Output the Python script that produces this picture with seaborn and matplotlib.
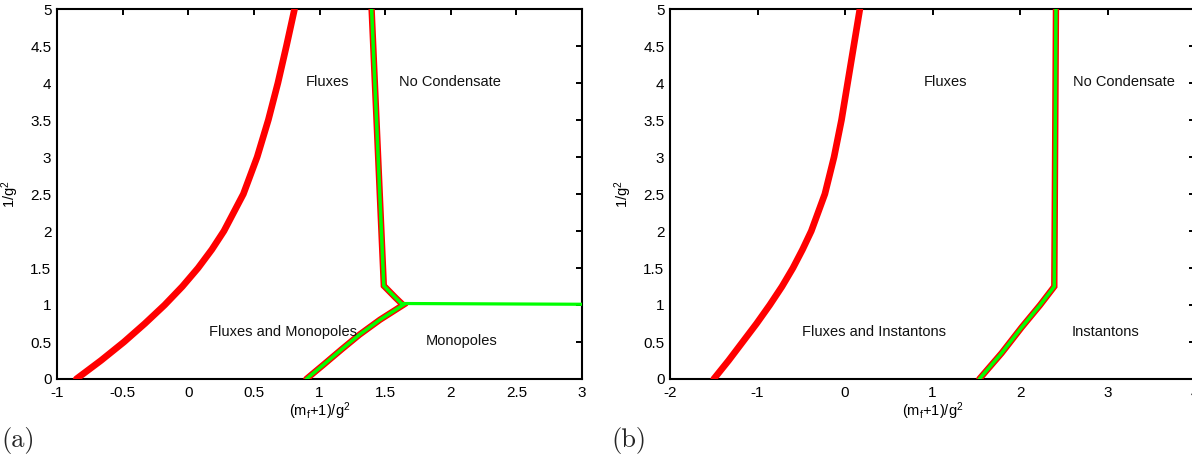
import matplotlib
matplotlib.use("Agg")
import matplotlib.pyplot as plt
import seaborn as sns
import pandas as pd

# ---------------- data ----------------
flux_y = [0, 0.25, 0.5, 0.75, 1, 1.25, 1.5, 1.75, 2, 2.5, 3, 3.5, 4, 4.5, 5]

# panel (a)
a_flux_x = [-0.853, -0.665, -0.49, -0.33, -0.18, -0.045, 0.075, 0.18, 0.272,
            0.42, 0.525, 0.61, 0.683, 0.748, 0.81]
a_flux_y = flux_y
a_bound_x = [0.90, 1.035, 1.168, 1.305, 1.46, 1.637, 1.582, 1.49, 1.397]
a_bound_y = [0.0, 0.2, 0.4, 0.6, 0.80, 1.0, 1.094, 1.26, 5.0]
a_mono_x = [1.64, 3.0]
a_mono_y = [1.02, 1.01]

# panel (b)
b_flux_x = [-1.50, -1.33, -1.17, -1.01, -0.86, -0.72, -0.595, -0.485, -0.385,
            -0.23, -0.125, -0.04, 0.03, 0.10, 0.17]
b_flux_y = flux_y
b_bound_x = [1.535, 1.79, 2.02, 2.23, 2.392, 2.411]
b_bound_y = [0.0, 0.35, 0.70, 1.0, 1.25, 5.0]

a_xticks = [-1, -0.5, 0, 0.5, 1, 1.5, 2, 2.5, 3]
a_xticklabels = ["-1", "-0.5", "0", "0.5", "1", "1.5", "2", "2.5", "3"]
b_xticks = [-2, -1, 0, 1, 2, 3, 4]
b_xticklabels = ["-2", "-1", "0", "1", "2", "3", "4"]
yticks = [0, 0.5, 1, 1.5, 2, 2.5, 3, 3.5, 4, 4.5, 5]
yticklabels = ["0", "0.5", "1", "1.5", "2", "2.5", "3", "3.5", "4", "4.5", "5"]

a_regions = ["Fluxes", "No Condensate", "Fluxes and Monopoles", "Monopoles"]
a_region_x = [1.064, 1.993, 0.72, 2.08]
a_region_y = [4.02, 4.02, 0.64, 0.52]
b_regions = ["Fluxes", "No Condensate", "Fluxes and Instantons", "Instantons"]
b_region_x = [1.143, 3.19, 0.33, 2.98]
b_region_y = [4.02, 4.02, 0.64, 0.64]

# ---------------- style ----------------
sns.set_theme(style="white")
plt.rcParams["font.family"] = ["Liberation Sans", "DejaVu Sans"]
plt.rcParams["mathtext.default"] = "regular"

W, H = 1192, 462
fig = plt.figure(figsize=(W / 100, H / 100), dpi=100)
fig.patch.set_facecolor("white")

ax_a = fig.add_axes([57 / W, (H - 379) / H, 525 / W, 370 / H])
ax_b = fig.add_axes([670 / W, (H - 379) / H, 525 / W, 370 / H])

RED = "#ff0000"
GREEN = "#00ff00"


def outlined(ax, xs, ys):
    df = pd.DataFrame({"x": xs, "y": ys})
    sns.lineplot(data=df, x="x", y="y", sort=False, estimator=None, ax=ax,
                 color=RED, linewidth=4.6, solid_joinstyle="miter", zorder=3)
    sns.lineplot(data=df, x="x", y="y", sort=False, estimator=None, ax=ax,
                 color=GREEN, linewidth=2.5, solid_joinstyle="miter", zorder=4)


def thick_red(ax, xs, ys):
    df = pd.DataFrame({"x": xs, "y": ys})
    sns.lineplot(data=df, x="x", y="y", sort=False, estimator=None, ax=ax,
                 color=RED, linewidth=4.8, solid_joinstyle="round", zorder=3)


# panel (a)
thick_red(ax_a, a_flux_x, a_flux_y)
outlined(ax_a, a_bound_x, a_bound_y)
sns.lineplot(x=a_mono_x, y=a_mono_y, sort=False, estimator=None, ax=ax_a,
             color=GREEN, linewidth=2.3, zorder=4)

# panel (b)
thick_red(ax_b, b_flux_x, b_flux_y)
outlined(ax_b, b_bound_x, b_bound_y)


def style_axes(ax, xlim, xticks, xticklabels, regions, rx, ry):
    ax.set_xlim(*xlim)
    ax.set_ylim(0, 5)
    ax.set_xticks(xticks)
    ax.set_xticklabels(xticklabels)
    ax.set_yticks(yticks)
    ax.set_yticklabels(yticklabels)
    ax.tick_params(direction="in", length=4.5, width=1.4, top=True, right=True,
                   labelsize=11, colors="black", pad=4)
    ax.tick_params(axis="x", pad=5)
    for sp in ax.spines.values():
        sp.set_visible(True)
        sp.set_linewidth(1.5)
        sp.set_color("black")
    ax.set_xlabel("(m$_f$+1)/g$^2$", fontsize=10.5, color="black")
    ax.set_ylabel("1/g$^2$", fontsize=10.5, color="black")
    ax.xaxis.set_label_coords(0.5, -0.057)
    ax.yaxis.set_label_coords(-0.069, 0.5)
    ax.grid(False)
    ax.set_facecolor("white")
    for t, x, y in zip(regions, rx, ry):
        ax.text(x, y, t, ha="center", va="center", fontsize=10.5, color="#111111", zorder=5)


style_axes(ax_a, (-1, 3), a_xticks, a_xticklabels, a_regions, a_region_x, a_region_y)
style_axes(ax_b, (-2, 4), b_xticks, b_xticklabels, b_regions, b_region_x, b_region_y)

fig.text(1 / W, (H - 440) / H, "(a)", fontsize=19, family="cmr10", va="center", ha="left")
fig.text(611 / W, (H - 440) / H, "(b)", fontsize=19, family="cmr10", va="center", ha="left")

fig.savefig("out.png", dpi=100, facecolor="white")
